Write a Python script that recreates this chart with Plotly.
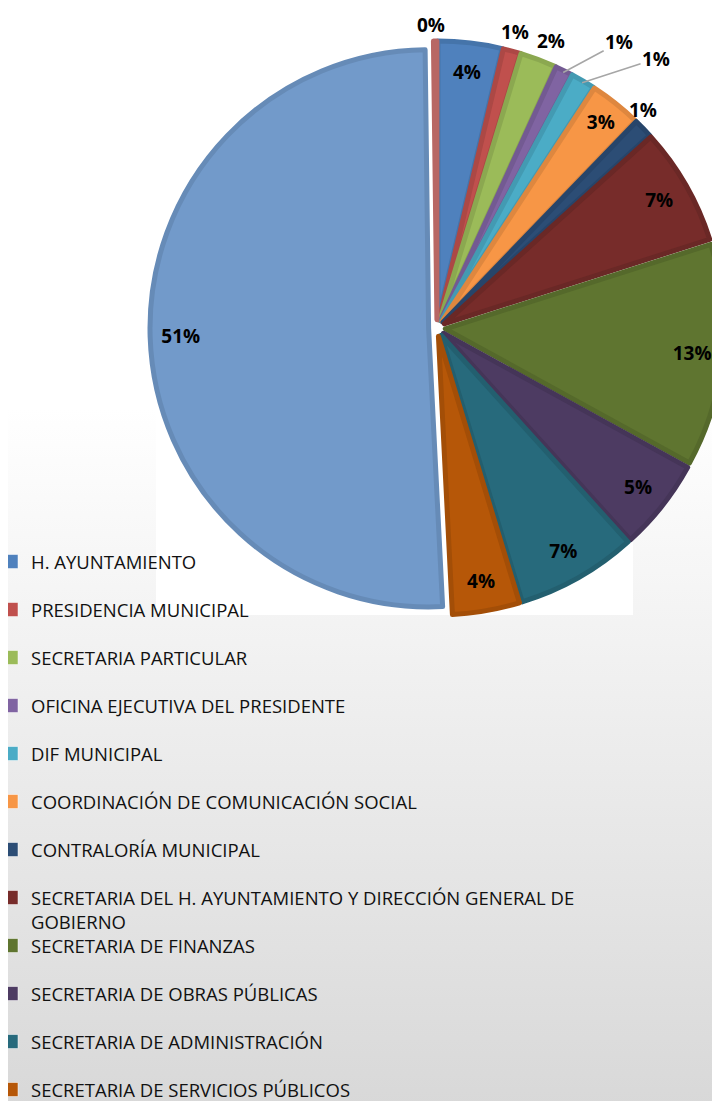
import math
import plotly.graph_objects as go

# dependencias (the last two entries of the legend fall below the picture)
labels = [
    "H. AYUNTAMIENTO",
    "PRESIDENCIA MUNICIPAL",
    "SECRETARIA PARTICULAR",
    "OFICINA EJECUTIVA DEL PRESIDENTE",
    "DIF MUNICIPAL",
    "COORDINACIÓN DE COMUNICACIÓN SOCIAL",
    "CONTRALORÍA MUNICIPAL",
    "SECRETARIA DEL H. AYUNTAMIENTO Y DIRECCIÓN GENERAL DE<br>GOBIERNO",
    "SECRETARIA DE FINANZAS",
    "SECRETARIA DE OBRAS PÚBLICAS",
    "SECRETARIA DE ADMINISTRACIÓN",
    "SECRETARIA DE SERVICIOS PÚBLICOS",
    "DEPENDENCIA 13",
    "DEPENDENCIA 14",
]
# share of the budget, percent
values = [3.7, 1.0, 2.1, 1.0, 1.4, 3.0, 1.1, 6.8, 12.9, 5.3, 7.0, 3.9, 50.6, 0.2]

colors = ["#4F81BD", "#C0504D", "#9BBB59", "#8064A2", "#4BACC6", "#F79646",
          "#2C4D75", "#772C2A", "#5F7530", "#4D3B62", "#276A7C", "#B65708",
          "#729ACA", "#CD7371"]
edges = ["#4574AA", "#AC4845", "#8BA850", "#735A92", "#439AB2", "#DE873F",
         "#27456A", "#6A2826", "#55692B", "#453558", "#235F6F", "#A34E07",
         "#668BB7", "#B86764"]
# slices whose label sits outside the pie; (dx, dy) nudge in px, leader line when dy < -10
outside = {1: (-2, 0), 2: (6, 0), 3: (56, -30), 4: (74, -24), 6: (-14, -4), 13: (-4, 4)}

W, H = 720, 1101
pie_domain = dict(x=[0.1972, 0.9944], y=[0.4487, 0.9700])
pulls = [0.03] * len(values)
label_font = dict(family="Open Sans", size=19, color="#000000", weight="bold")
legend_size = 18.5

fig = go.Figure()

# gradient chart area
fig.add_trace(go.Scatter(
    x=[0, W, W, 0, 0], y=[0, 0, H, H, 0], mode="none", fill="toself",
    fillgradient=dict(type="vertical", start=0, stop=H - 400,
                      colorscale=[[0, "#d8d8d8"], [1, "#ffffff"]]),
    hoverinfo="skip", showlegend=False))
# white plot area
fig.add_trace(go.Scatter(
    x=[148, 625, 625, 148, 148], y=[H - 607, H - 607, H - 33, H - 33, H - 607],
    mode="none", fill="toself", fillcolor="#ffffff",
    hoverinfo="skip", showlegend=False))

# the slices
fig.add_trace(go.Pie(
    labels=labels, values=values, sort=False, direction="clockwise", rotation=0,
    marker=dict(colors=colors, line=dict(color=edges, width=5)),
    pull=pulls, textinfo="none",
    domain=pie_domain, showlegend=False, hoverinfo="label+percent"))

# same pie, see-through, as a ring so the inside labels sit near the rim
fig.add_trace(go.Pie(
    labels=labels, values=values, sort=False, direction="clockwise", rotation=0,
    hole=0.78,
    marker=dict(colors=["rgba(0,0,0,0)"] * len(values), line=dict(width=0)),
    pull=pulls,
    texttemplate="%{percent:.0%}",
    textposition=["none" if i in outside else "inside" for i in range(len(values))],
    insidetextorientation="horizontal", insidetextfont=label_font,
    domain=pie_domain, showlegend=False, hoverinfo="skip"))

# outside labels of the thin slices, placed from the pie geometry
total = sum(values)
cx = (pie_domain["x"][0] + pie_domain["x"][1]) / 2 * W
cy = (pie_domain["y"][0] + pie_domain["y"][1]) / 2 * H
half = min((pie_domain["x"][1] - pie_domain["x"][0]) * W,
           (pie_domain["y"][1] - pie_domain["y"][0]) * H) / 2
r = half / (1 + max(pulls))
start = 0.0
for i, v in enumerate(values):
    mid = math.radians((start + v / 2) / total * 360)
    start += v
    if i not in outside:
        continue
    txt = f"{round(v / total * 100):d}%"
    dx, dy = outside[i]
    if dy > -10:
        d = r * (1 + pulls[i]) + 20
        fig.add_annotation(x=cx + d * math.sin(mid) + dx, y=cy + d * math.cos(mid) - dy,
                           xref="x", yref="y", text=txt, showarrow=False, font=label_font)
    else:
        d = r * (1 + pulls[i]) - 2
        fig.add_annotation(x=cx + d * math.sin(mid), y=cy + d * math.cos(mid),
                           xref="x", yref="y", text=txt, font=label_font,
                           showarrow=True, arrowhead=0, arrowwidth=1.5, arrowcolor="#a6a6a6",
                           ax=dx, ay=dy, standoff=0)

# legend entries (Excel style squares)
for i, name in enumerate(labels[:12]):
    fig.add_trace(go.Scatter(
        x=[None], y=[None], mode="markers", name=name,
        marker=dict(symbol="square", size=14, color=colors[i],
                    line=dict(color="#ffffff", width=0.5)),
        legendgroup=str(i), legend="legend" if i < 8 else "legend2"))

legend_style = dict(
    font=dict(family="Open Sans", size=legend_size, color="#111111"),
    bgcolor="rgba(0,0,0,0)", traceorder="grouped",
    tracegroupgap=48 - (legend_size * 1.3 + 3),
    valign="top", xanchor="left", yanchor="top", x=-17 / W)

fig.update_layout(
    width=W, height=H, margin=dict(l=0, r=0, t=0, b=0, autoexpand=False),
    paper_bgcolor="#ffffff", plot_bgcolor="#ffffff",
    xaxis=dict(visible=False, range=[0, W], fixedrange=True),
    yaxis=dict(visible=False, range=[0, H], fixedrange=True),
    legend=dict(legend_style, y=1 - 535 / H),
    legend2=dict(legend_style, y=1 - 919 / H),
)

fig.write_html("out.html")
